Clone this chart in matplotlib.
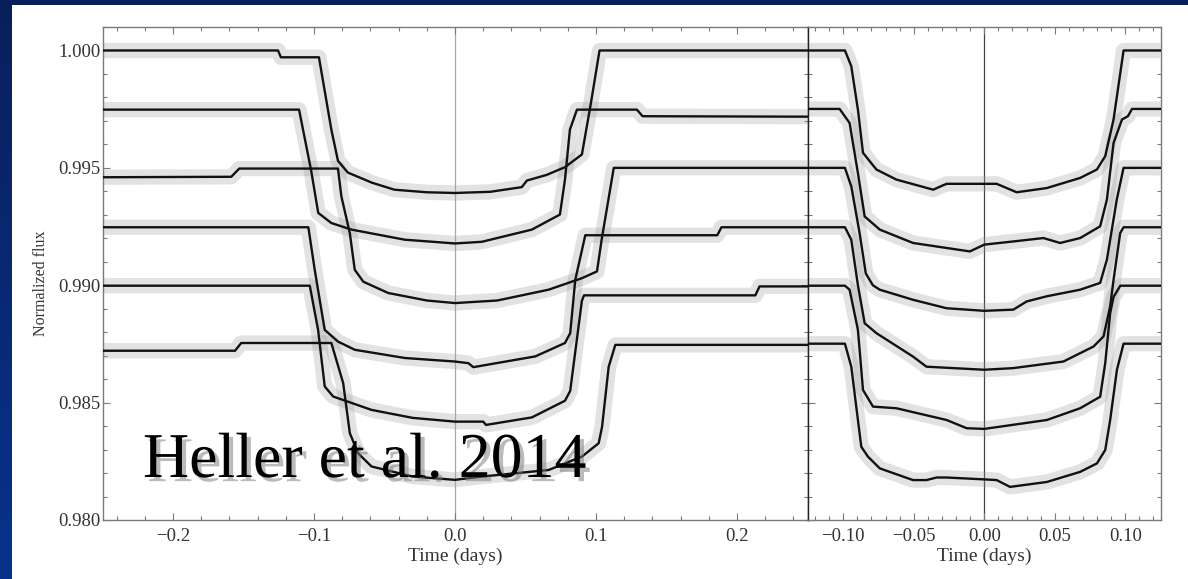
import matplotlib
matplotlib.use("Agg")
import matplotlib.pyplot as plt
import matplotlib.patheffects as pe
from matplotlib.patches import Rectangle
from matplotlib.colors import LinearSegmentedColormap
from matplotlib.ticker import MultipleLocator, FuncFormatter, FormatStrFormatter
import numpy as np

plt.rcParams['font.family'] = ['Liberation Serif', 'DejaVu Serif']

# ---- left panel: full light curves vs time (days) ----
l1_t = [-0.25, -0.1255, -0.1235, -0.0965, -0.0877, -0.083, -0.076, -0.059, -0.043, -0.02, 0.0,
        0.025, 0.0474, 0.051, 0.065, 0.078, 0.090, 0.0965, 0.1025, 0.25]
l1_f = [1.0, 1.0, 0.99971, 0.99971, 0.99663, 0.9953, 0.9948, 0.99437, 0.99407, 0.99396, 0.99393,
        0.99398, 0.99418, 0.99446, 0.9947, 0.99503, 0.99557, 0.9978, 1.0, 1.0]

l2_t = [-0.25, -0.1106, -0.102, -0.097, -0.0877, -0.0734, -0.0357, 0.0, 0.019, 0.0545, 0.0744,
        0.078, 0.0815, 0.0865, 0.129, 0.133, 0.25]
l2_f = [0.99748, 0.99748, 0.99488, 0.99308, 0.99265, 0.99237, 0.99194, 0.99178, 0.99185, 0.99237,
        0.99301, 0.9945, 0.99663, 0.99748, 0.99748, 0.9972, 0.99718]

l3_t = [-0.25, -0.1587, -0.153, -0.083, -0.0806, -0.0746, -0.0711, -0.065, -0.0474, -0.02, 0.0,
        0.03, 0.0664, 0.090, 0.1007, 0.104, 0.1126, 0.25]
l3_f = [0.9946, 0.99462, 0.99497, 0.99497, 0.99379, 0.99222, 0.99066, 0.99015, 0.98967, 0.98935,
        0.98924, 0.98935, 0.98981, 0.9903, 0.99059, 0.99194, 0.995, 0.995]

l4_t = [-0.25, -0.104, -0.0995, -0.0924, -0.083, -0.071, -0.0355, 0.0, 0.0095, 0.013, 0.057,
        0.078, 0.0817, 0.0853, 0.0924, 0.186, 0.189, 0.25]
l4_f = [0.99247, 0.99247, 0.99066, 0.9881, 0.9876, 0.98725, 0.9869, 0.98675, 0.98668, 0.98651,
        0.98697, 0.98754, 0.98796, 0.99023, 0.99213, 0.99213, 0.99247, 0.99247]

l5_t = [-0.25, -0.103, -0.0971, -0.0924, -0.0864, -0.0592, -0.03, 0.0, 0.020, 0.022, 0.0545,
        0.078, 0.0817, 0.090, 0.0915, 0.213, 0.216, 0.25]
l5_f = [0.98998, 0.98998, 0.9881, 0.98569, 0.98526, 0.98469, 0.98435, 0.98419, 0.98419, 0.98405,
        0.98437, 0.98508, 0.9855, 0.98934, 0.98957, 0.98957, 0.98995, 0.98995]

l6_t = [-0.25, -0.156, -0.1516, -0.0877, -0.0793, -0.0746, -0.0687, -0.0592, -0.03, 0.0, 0.019,
        0.0664, 0.090, 0.1019, 0.1043, 0.109, 0.1137, 0.25]
l6_f = [0.98721, 0.98721, 0.98754, 0.98754, 0.98583, 0.9837, 0.98284, 0.98228, 0.98185, 0.98171,
        0.98185, 0.98213, 0.9827, 0.98327, 0.98397, 0.98653, 0.98746, 0.98746]

# ---- right panel: zoom on the transit ----
r1_t = [-0.125, -0.0988, -0.0943, -0.0896, -0.086, -0.0765, -0.0623, -0.0362, -0.0295, -0.0267,
        0.0, 0.0088, 0.023, 0.0444, 0.068, 0.0799, 0.0858, 0.0917, 0.0988, 0.125]
r1_f = [1.0, 1.0, 0.99933, 0.99748, 0.99564, 0.99493, 0.9945, 0.99407, 0.99425, 0.99432,
        0.99432, 0.99432, 0.99396, 0.99414, 0.99457, 0.99493, 0.9955, 0.99706, 1.0, 1.0]

r2_t = [-0.125, -0.1026, -0.0955, -0.0896, -0.0848, -0.0741, -0.0505, -0.0102, 0.0, 0.0213,
        0.042, 0.0538, 0.068, 0.0822, 0.087, 0.0917, 0.0977, 0.1019, 0.1048, 0.125]
r2_f = [0.99751, 0.99751, 0.99691, 0.99478, 0.99293, 0.99237, 0.9918, 0.99144, 0.99173, 0.99187,
        0.99201, 0.9918, 0.99201, 0.99251, 0.99365, 0.99606, 0.99706, 0.9972, 0.99751, 0.99751]

r3_t = [-0.125, -0.0988, -0.0943, -0.0884, -0.084, -0.079, -0.0741, -0.0505, -0.0267, 0.0,
        0.0206, 0.0301, 0.0444, 0.068, 0.0822, 0.087, 0.094, 0.0988, 0.125]
r3_f = [0.995, 0.995, 0.99421, 0.99222, 0.9905, 0.99, 0.98981, 0.98938, 0.98902, 0.98891,
        0.98896, 0.98931, 0.98953, 0.98981, 0.9901, 0.99109, 0.99365, 0.995, 0.995]

r4_t = [-0.125, -0.0988, -0.0943, -0.0896, -0.0848, -0.0765, -0.0505, -0.041, 0.0, 0.0206,
        0.0561, 0.0775, 0.0846, 0.0893, 0.0917, 0.0964, 0.0988, 0.125]
r4_f = [0.99247, 0.99247, 0.99194, 0.99, 0.98838, 0.98796, 0.98696, 0.98653, 0.9864, 0.98647,
        0.98675, 0.98739, 0.98782, 0.9891, 0.99023, 0.99222, 0.99247, 0.99247]

r5_t = [-0.125, -0.0988, -0.0955, -0.0896, -0.0872, -0.086, -0.0789, -0.0623, -0.0267, -0.0125,
        0.0, 0.0444, 0.068, 0.0822, 0.0858, 0.0893, 0.0917, 0.0965, 0.125]
r5_f = [0.98998, 0.98998, 0.98981, 0.9881, 0.9864, 0.98554, 0.98483, 0.98476, 0.98426, 0.98391,
        0.98388, 0.98426, 0.98476, 0.98525, 0.98668, 0.98881, 0.9895, 0.98998, 0.98998]

r6_t = [-0.125, -0.0988, -0.0943, -0.0896, -0.0872, -0.0825, -0.0741, -0.0505, -0.041, -0.0338,
        -0.0267, 0.0, 0.0088, 0.0183, 0.0444, 0.068, 0.0799, 0.0858, 0.0893, 0.0941, 0.0988, 0.125]
r6_f = [0.98751, 0.98751, 0.98653, 0.98426, 0.98312, 0.9827, 0.9822, 0.9817, 0.9817, 0.98181,
        0.98181, 0.98173, 0.9817, 0.98141, 0.98162, 0.98205, 0.98241, 0.98298, 0.98426, 0.9864,
        0.98751, 0.98751]

left_curves = [(l1_t, l1_f), (l2_t, l2_f), (l3_t, l3_f), (l4_t, l4_f), (l5_t, l5_f), (l6_t, l6_f)]
right_curves = [(r1_t, r1_f), (r2_t, r2_f), (r3_t, r3_f), (r4_t, r4_f), (r5_t, r5_f), (r6_t, r6_f)]

y_ticks = [0.980, 0.985, 0.990, 0.995, 1.000]

W, H = 1188, 579
fig = plt.figure(figsize=(W / 100, H / 100), dpi=100)

# slide background: navy gradient with a white card
bg = fig.add_axes([0, 0, 1, 1], zorder=-10)
grad = np.linspace(0, 1, 256).reshape(-1, 1)
navy = LinearSegmentedColormap.from_list('navy', ['#0a1f5c', '#08328c'])
bg.imshow(grad, cmap=navy, aspect='auto', extent=[0, 1, 0, 1], origin='upper')
bg.add_patch(Rectangle((12 / W, 0), 1, 1 - 5 / H, transform=bg.transAxes,
                       facecolor='white', edgecolor='none'))
bg.set_xlim(0, 1)
bg.set_ylim(0, 1)
bg.axis('off')

ax_bottom = 1 - 520 / H
ax_height = (520 - 27) / H
ax1 = fig.add_axes([102.5 / W, ax_bottom, 705 / W, ax_height])
ax2 = fig.add_axes([808 / W, ax_bottom, 352.5 / W, ax_height])

tick_color = '#333333'
spine_color = '#7a7a7a'


def minus_fmt(decimals):
    # proper minus sign on the time axis
    return FuncFormatter(lambda v, pos: f'{v:.{decimals}f}'.replace('-', '\u2212'))


def draw(ax, curves, xlim, zero_color):
    ax.axvline(0, color=zero_color, lw=0.9, zorder=1)
    for t, f in curves:
        # scatter cloud rendered as a soft band around each model
        ax.plot(t, f, color='#9a9a9a', lw=11, alpha=0.28, solid_joinstyle='round',
                solid_capstyle='butt', zorder=2)
    for t, f in curves:
        ax.plot(t, f, color='#111111', lw=1.7, solid_joinstyle='round', zorder=3)
    ax.set_xlim(*xlim)
    ax.set_ylim(0.980, 1.001)
    ax.yaxis.set_major_locator(MultipleLocator(0.005))
    ax.yaxis.set_minor_locator(MultipleLocator(0.001))
    ax.tick_params(which='both', direction='in', top=True, right=True,
                   color=spine_color, width=0.8, labelcolor=tick_color, labelsize=13.5)
    ax.tick_params(which='major', length=5)
    ax.tick_params(which='minor', length=3)
    ax.tick_params(axis='x', pad=6)
    for s in ax.spines.values():
        s.set_color(spine_color)
        s.set_linewidth(1.0)
    ax.set_xlabel('Time (days)', fontsize=14, color=tick_color, labelpad=2)


draw(ax1, left_curves, (-0.25, 0.25), '#a8a8a8')
ax1.xaxis.set_major_locator(MultipleLocator(0.1))
ax1.xaxis.set_minor_locator(MultipleLocator(0.02))
ax1.xaxis.set_major_formatter(minus_fmt(1))
ax1.set_yticks(y_ticks)
ax1.yaxis.set_major_formatter(FormatStrFormatter('%.3f'))
ax1.tick_params(axis='y', pad=1.5)
ax1.set_ylabel('Normalized flux', fontsize=11.5, color=tick_color)
ax1.yaxis.set_label_coords(-0.076, 0.48)
ax1.spines['right'].set_color('#222222')

draw(ax2, right_curves, (-0.125, 0.125), '#444444')
ax2.xaxis.set_major_locator(MultipleLocator(0.05))
ax2.xaxis.set_minor_locator(MultipleLocator(0.01))
ax2.xaxis.set_major_formatter(minus_fmt(2))
ax2.tick_params(axis='y', labelleft=False)
ax2.spines['left'].set_color('#222222')

fig.text(143 / W, 1 - 477 / H, 'Heller et al. 2014', fontsize=46, color='black',
         ha='left', va='baseline', zorder=20,
         path_effects=[pe.withSimplePatchShadow(offset=(3, -3), shadow_rgbFace='#777777', alpha=0.5)])

fig.savefig('out.png', dpi=100)
